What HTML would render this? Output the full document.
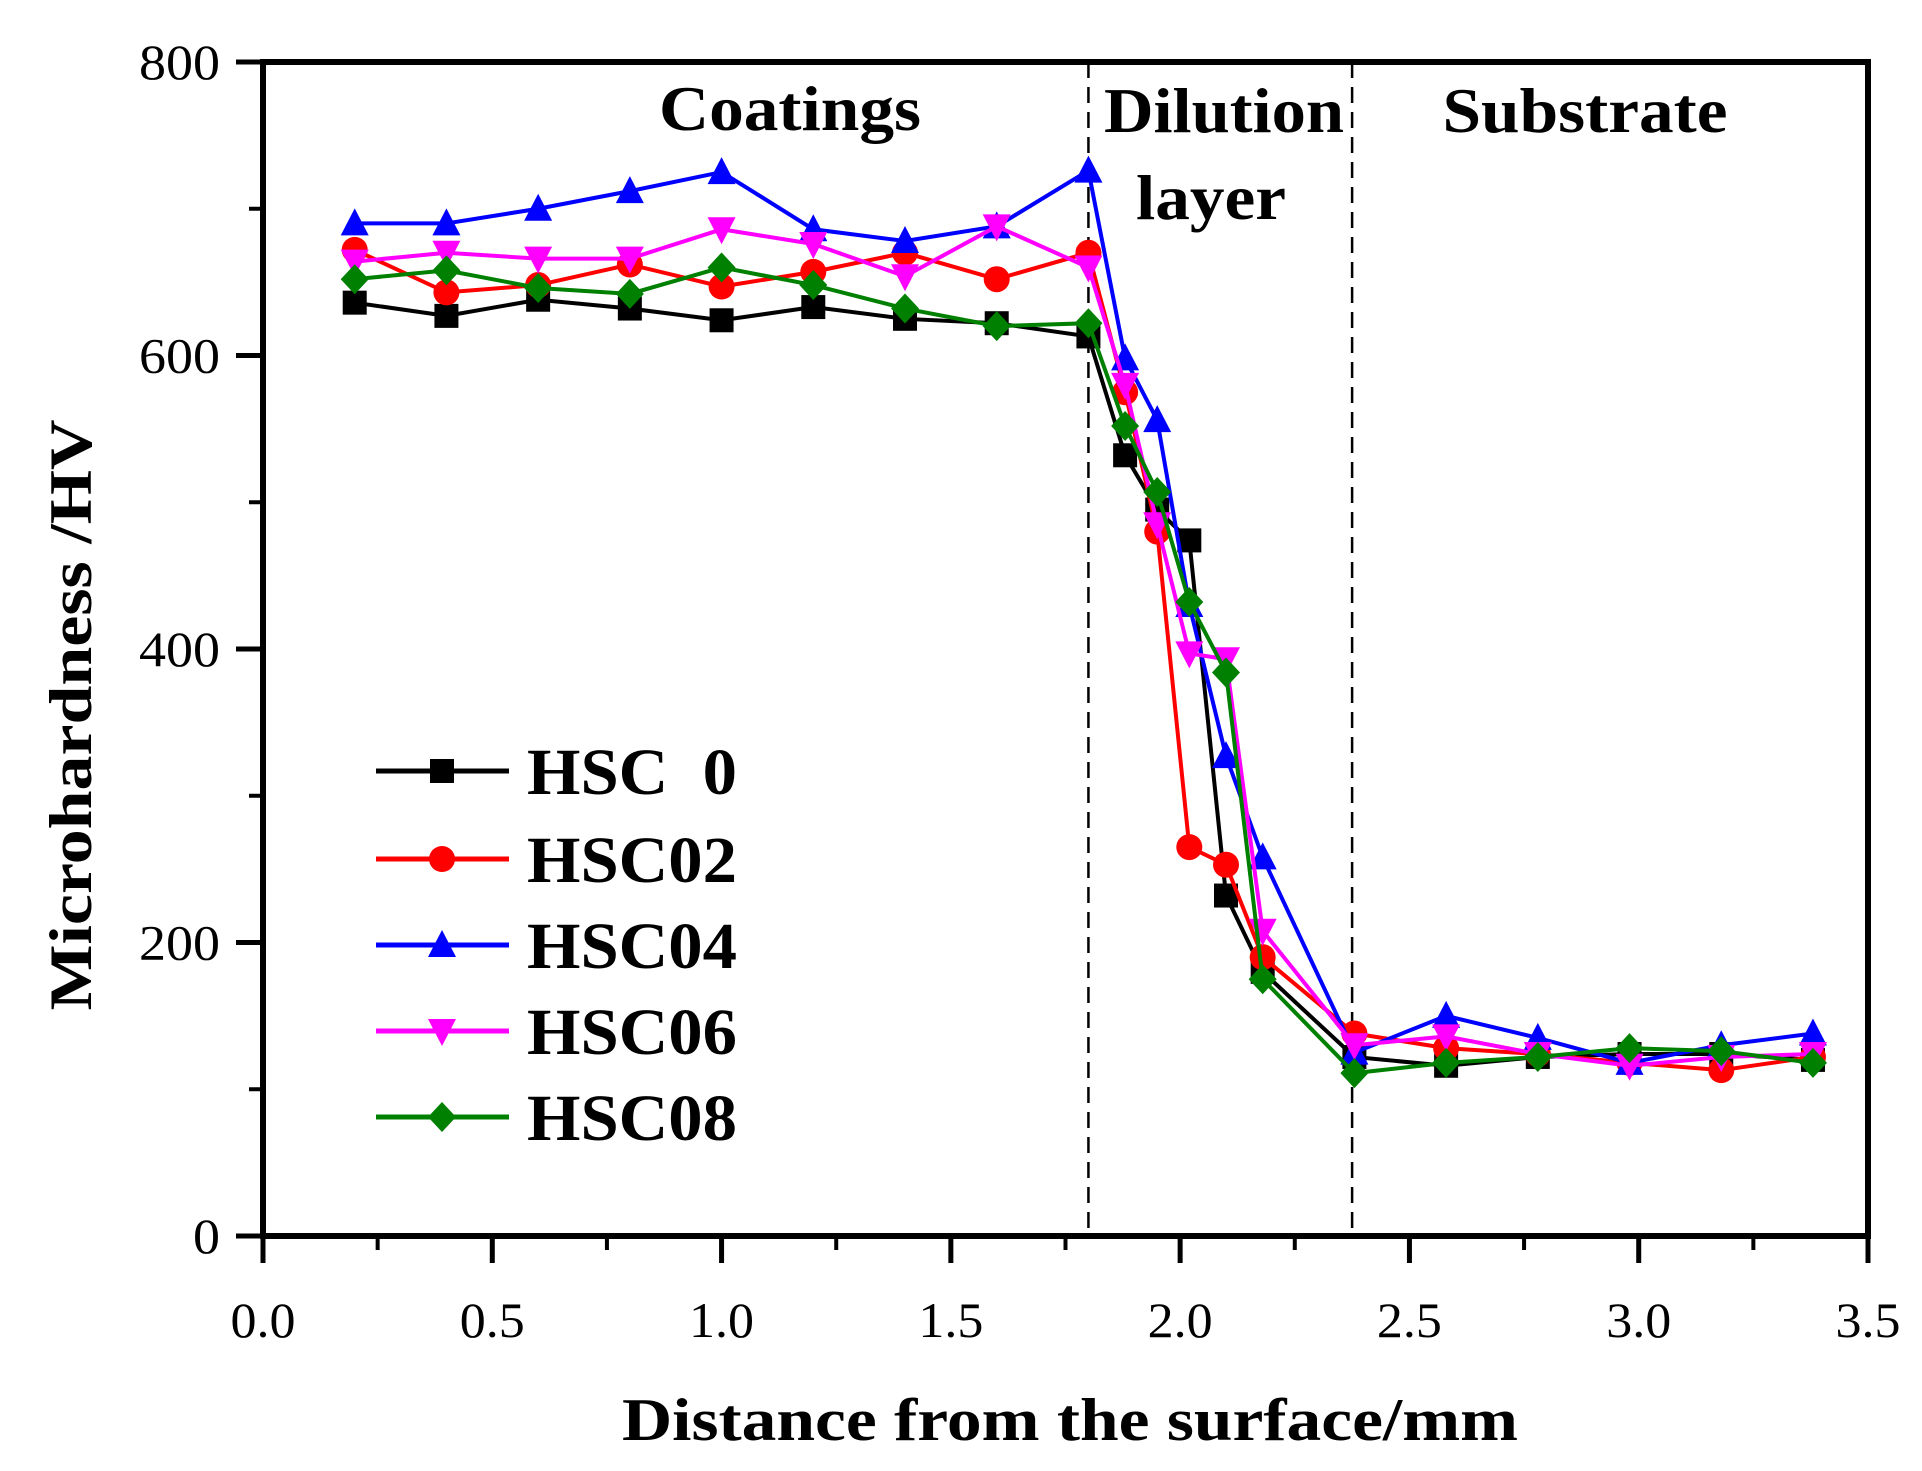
<!DOCTYPE html>
<html><head><meta charset="utf-8"><style>
html,body{margin:0;padding:0;background:#fff;}
svg text{font-family:"Liberation Serif",serif;}
</style></head><body>
<svg id="chart" width="1922" height="1466" xmlns="http://www.w3.org/2000/svg"></svg>
<script>
const xVals=[0.2,0.4,0.6,0.8,1.0,1.2,1.4,1.6,1.8,1.88,1.95,2.02,2.1,2.18,2.38,2.58,2.78,2.98,3.18,3.38];
const hsc0=[636,627,638,632,624,633,625,622,613,532,495,474,232,180,122,116,122,124,124,120];
const hsc02=[672,643,648,662,647,657,670,652,670,575,480,265,253,190,138,128,124,118,113,122];
const hsc04=[690,690,700,712,725,686,678,688,726,598,556,430,327,258,125,150,135,118,130,138];
const hsc06=[664,670,666,666,686,676,654,688,660,580,485,397,393,208,130,136,124,116,122,124];
const hsc08=[652,658,646,642,660,648,632,620,622,552,507,432,384,175,111,118,122,128,126,118];
const seriesNames=["HSC  0","HSC02","HSC04","HSC06","HSC08"];
const xTicks=["0.0","0.5","1.0","1.5","2.0","2.5","3.0","3.5"];
const yTicks=["0","200","400","600","800"];
const dividers=[1.8,2.375];

const L=263,R=1868,T=62,B=1236;
const X=v=>L+(v/3.5)*(R-L);
const Y=v=>B-(v/800)*(B-T);
const svg=document.getElementById('chart');
const NS="http://www.w3.org/2000/svg";
function mk(tag,attrs,parent){const e=document.createElementNS(NS,tag);for(const k in attrs)e.setAttribute(k,attrs[k]);(parent||svg).appendChild(e);return e;}

dividers.forEach((d,i)=>{
  const l=mk('line',{x1:X(d),x2:X(d),y1:T,y2:B,stroke:'#000','stroke-width':2.5,'stroke-dasharray':'16,9'});
  
  
});

[["Coatings",790,130,262,"coatings-label"],["Dilution",1224,132,240,"dilution-label"],["layer",1211,219,150,"layer-label"],["Substrate",1585,132,285,"substrate-label"]].forEach(a=>{
  const t=mk('text',{x:a[1],y:a[2],'text-anchor':'middle','font-size':64,'font-weight':'bold',textLength:a[3],lengthAdjust:'spacingAndGlyphs'});
  t.textContent=a[0];
  
  
});

const colors=["#000","#ff0000","#0000ff","#ff00ff","#008000"];
const markers=["square","circle","tri","tridown","diamond"];
function marker(type,cx,cy,color,g){
  const s=13;
  if(type==="square")return mk('rect',{x:cx-s+1,y:cy-s+1,width:2*s-2,height:2*s-2,fill:color},g);
  if(type==="circle")return mk('circle',{cx:cx,cy:cy,r:s,fill:color},g);
  if(type==="tri")return mk('polygon',{points:`${cx},${cy-s-2} ${cx+s+1},${cy+s-1} ${cx-s-1},${cy+s-1}`,fill:color},g);
  if(type==="tridown")return mk('polygon',{points:`${cx},${cy+s+2} ${cx+s+1},${cy-s+1} ${cx-s-1},${cy-s+1}`,fill:color},g);
  return mk('polygon',{points:`${cx},${cy-s-2} ${cx+s+1},${cy} ${cx},${cy+s+2} ${cx-s-1},${cy}`,fill:color},g);
}
const allSeries=[hsc0,hsc02,hsc04,hsc06,hsc08];
allSeries.forEach((data,si)=>{
  const g=mk('g',{});
  
  
  const pts=data.map((v,i)=>X(xVals[i])+','+Y(v)).join(' ');
  mk('polyline',{points:pts,fill:'none',stroke:colors[si],'stroke-width':4},g);
  data.forEach((v,i)=>{
    const m=marker(markers[si],X(xVals[i]),Y(v),colors[si],g);
    
    
  });
});

const frame=mk('rect',{x:L,y:T,width:R-L,height:B-T,fill:'none',stroke:'#000','stroke-width':6});



xTicks.forEach((lab,i)=>{
  const v=i*0.5;
  mk('line',{x1:X(v),x2:X(v),y1:B,y2:B+27,stroke:'#000','stroke-width':5});
  if(i<xTicks.length-1) mk('line',{x1:X(v+0.25),x2:X(v+0.25),y1:B,y2:B+14,stroke:'#000','stroke-width':4});
  const t=mk('text',{x:X(v),y:1337,'text-anchor':'middle','font-size':50,textLength:65,lengthAdjust:'spacingAndGlyphs'});
  t.textContent=lab;
  
  
});
yTicks.forEach((lab,i)=>{
  const v=i*200;
  mk('line',{x1:L-27,x2:L,y1:Y(v),y2:Y(v),stroke:'#000','stroke-width':5});
  if(i<yTicks.length-1) mk('line',{x1:L-14,x2:L,y1:Y(v+100),y2:Y(v+100),stroke:'#000','stroke-width':4});
  const t=mk('text',{x:220,y:Y(v)+17,'text-anchor':'end','font-size':50,textLength:lab.length*27,lengthAdjust:'spacingAndGlyphs'});
  t.textContent=lab;
  
  
});

const xt=mk('text',{x:1070,y:1440,'text-anchor':'middle','font-size':60,'font-weight':'bold',textLength:896,lengthAdjust:'spacingAndGlyphs'});
xt.textContent="Distance from the surface/mm";


const yt=mk('text',{x:0,y:0,'text-anchor':'middle','font-size':60,'font-weight':'bold',textLength:591,lengthAdjust:'spacingAndGlyphs',transform:'translate(91,715) rotate(-90)'});
yt.textContent="Microhardness /HV";



const legY=[771,859,945,1031,1117];
seriesNames.forEach((n,i)=>{
  const g=mk('g',{});
  
  
  mk('line',{x1:376,x2:509,y1:legY[i],y2:legY[i],stroke:colors[i],'stroke-width':5},g);
  marker(markers[i],442,legY[i],colors[i],g);
  const t=mk('text',{x:527,y:legY[i]+23,'font-size':66,'font-weight':'bold',textLength:210,lengthAdjust:'spacingAndGlyphs'},g);
  t.setAttribute('style','white-space:pre');
  t.textContent=n;
});
</script>
</body></html>
